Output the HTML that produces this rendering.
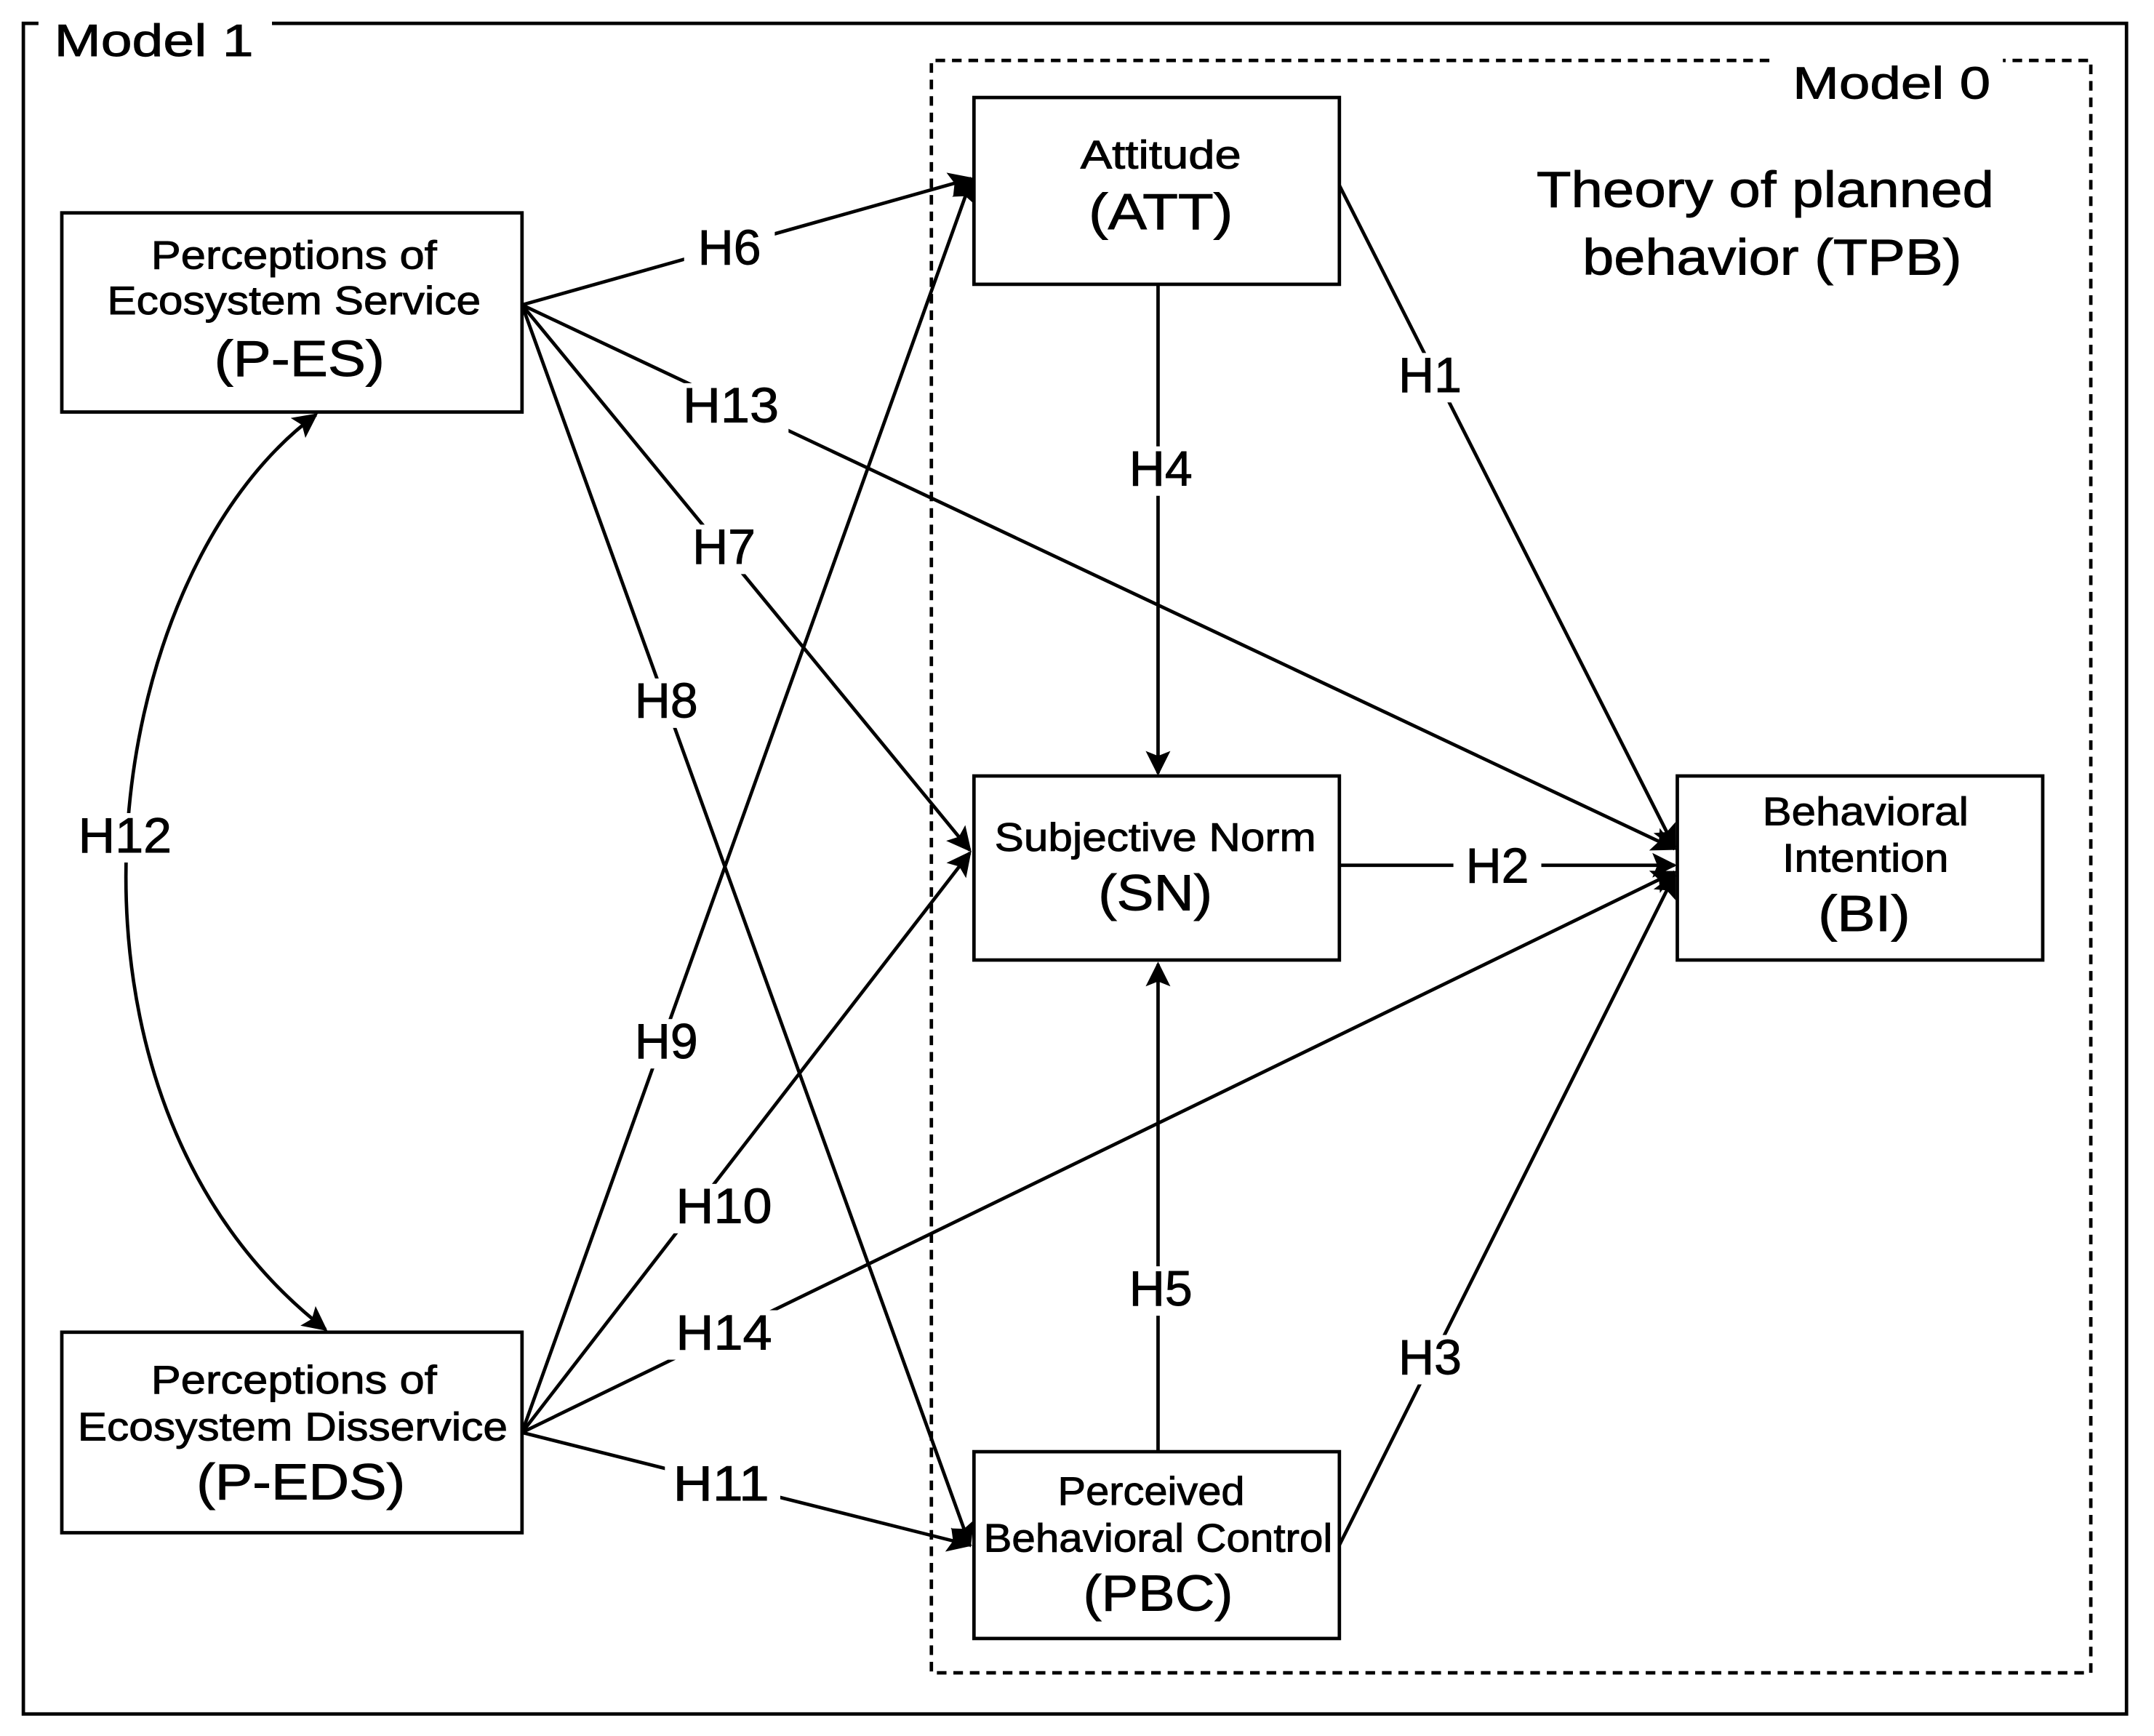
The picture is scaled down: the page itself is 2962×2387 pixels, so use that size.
<!DOCTYPE html>
<html><head><meta charset="utf-8"><style>
html,body{margin:0;padding:0;background:#fff}
svg{display:block}
text{font-family:"Liberation Sans","DejaVu Sans",sans-serif;fill:#000;stroke:#000;stroke-width:0.5;text-anchor:middle;dominant-baseline:middle}
</style></head><body>
<svg width="2962" height="2387" viewBox="0 0 1568 1264" preserveAspectRatio="none" xmlns="http://www.w3.org/2000/svg">
<defs>
<marker id="b" viewBox="0 0 10 10" refX="9" refY="5" markerWidth="22" markerHeight="18" orient="auto-start-reverse" markerUnits="userSpaceOnUse">
<path d="M0,0 L10,5 L0,10 L2,5 z" fill="#000"/></marker>
</defs>
<rect width="1568" height="1264" fill="#fff"/>
<path d="M28,17 L17,17 L17,1248 L1548,1248 L1548,17 L198,17" fill="none" stroke="#000" stroke-width="2.5"/>
<text x="112" y="32" font-size="33" textLength="145" lengthAdjust="spacingAndGlyphs">Model 1</text>
<path d="M1288,44 L678,44 L678,1218 L1522,1218 L1522,44 L1458,44" fill="none" stroke="#000" stroke-width="2.5" stroke-dasharray="7,5"/>
<text x="1377" y="63" font-size="33" textLength="144" lengthAdjust="spacingAndGlyphs">Model 0</text>
<text x="1285" y="141" font-size="37" textLength="333" lengthAdjust="spacingAndGlyphs">Theory of planned</text>
<text x="1290" y="190" font-size="37" textLength="276" lengthAdjust="spacingAndGlyphs">behavior (TPB)</text>

<g stroke="#000" stroke-width="2.5" fill="none" marker-end="url(#b)">
<line x1="380" y1="222" x2="707" y2="130"/>
<line x1="380" y1="222" x2="1219" y2="618"/>
<line x1="380" y1="222" x2="706" y2="619"/>
<line x1="380" y1="222" x2="706" y2="1125"/>
<line x1="975" y1="135" x2="1219" y2="617"/>
<line x1="843" y1="207" x2="843" y2="563"/>
<line x1="975" y1="630" x2="1219" y2="630"/>
<line x1="843" y1="1057" x2="843" y2="702"/>
<line x1="975" y1="1125" x2="1219" y2="637"/>
<line x1="380" y1="1043" x2="707" y2="131"/>
<line x1="380" y1="1043" x2="706" y2="621"/>
<line x1="380" y1="1043" x2="1219" y2="635"/>
<line x1="380" y1="1043" x2="706" y2="1125"/>
<path d="M230,302 C70,420 20,800 237,968" marker-start="url(#b)"/>
</g>

<g fill="#fff">
<rect x="498" y="164" width="66" height="36"/>
<rect x="490" y="279" width="84" height="36"/>
<rect x="498" y="382" width="60" height="36"/>
<rect x="456" y="494" width="60" height="36"/>
<rect x="1012" y="257" width="58" height="36"/>
<rect x="816" y="325" width="58" height="36"/>
<rect x="1058" y="614" width="64" height="36"/>
<rect x="816" y="922" width="58" height="36"/>
<rect x="1012" y="972" width="58" height="36"/>
<rect x="456" y="742" width="60" height="36"/>
<rect x="486" y="862" width="84" height="36"/>
<rect x="486" y="954" width="84" height="36"/>
<rect x="484" y="1064" width="84" height="36"/>
<rect x="48" y="592" width="84" height="36"/>
</g>
<g font-size="36">
<text x="531" y="183" textLength="46" lengthAdjust="spacingAndGlyphs">H6</text>
<text x="532" y="298" textLength="70" lengthAdjust="spacingAndGlyphs">H13</text>
<text x="527" y="401" textLength="46" lengthAdjust="spacingAndGlyphs">H7</text>
<text x="485" y="513" textLength="46" lengthAdjust="spacingAndGlyphs">H8</text>
<text x="1041" y="276" textLength="46" lengthAdjust="spacingAndGlyphs">H1</text>
<text x="845" y="344" textLength="46" lengthAdjust="spacingAndGlyphs">H4</text>
<text x="1090" y="633" textLength="46" lengthAdjust="spacingAndGlyphs">H2</text>
<text x="845" y="941" textLength="46" lengthAdjust="spacingAndGlyphs">H5</text>
<text x="1041" y="991" textLength="46" lengthAdjust="spacingAndGlyphs">H3</text>
<text x="485" y="761" textLength="46" lengthAdjust="spacingAndGlyphs">H9</text>
<text x="527" y="881" textLength="70" lengthAdjust="spacingAndGlyphs">H10</text>
<text x="527" y="973" textLength="70" lengthAdjust="spacingAndGlyphs">H14</text>
<text x="525" y="1083" textLength="70" lengthAdjust="spacingAndGlyphs">H11</text>
<text x="91" y="611" textLength="68" lengthAdjust="spacingAndGlyphs">H12</text>
</g>

<g fill="#fff" stroke="#000" stroke-width="2.5">
<rect x="709" y="71" width="266" height="136"/>
<rect x="709" y="565" width="266" height="134"/>
<rect x="709" y="1057" width="266" height="136"/>
<rect x="1221" y="565" width="266" height="134"/>
<rect x="45" y="155" width="335" height="145"/>
<rect x="45" y="970" width="335" height="146"/>
</g>
<g lengthAdjust="spacingAndGlyphs">
<text x="845" y="115" font-size="29" textLength="117" lengthAdjust="spacingAndGlyphs">Attitude</text>
<text x="845" y="157" font-size="37" textLength="105" lengthAdjust="spacingAndGlyphs">(ATT)</text>
<text x="841" y="612" font-size="29" textLength="234" lengthAdjust="spacingAndGlyphs">Subjective Norm</text>
<text x="841" y="653" font-size="37" textLength="83" lengthAdjust="spacingAndGlyphs">(SN)</text>
<text x="838" y="1088" font-size="29" textLength="136" lengthAdjust="spacingAndGlyphs">Perceived</text>
<text x="843" y="1122" font-size="29" textLength="254" lengthAdjust="spacingAndGlyphs">Behavioral Control</text>
<text x="843" y="1163" font-size="37" textLength="109" lengthAdjust="spacingAndGlyphs">(PBC)</text>
<text x="1358" y="593" font-size="29" textLength="150" lengthAdjust="spacingAndGlyphs">Behavioral</text>
<text x="1358" y="627" font-size="29" textLength="121" lengthAdjust="spacingAndGlyphs">Intention</text>
<text x="1357" y="668" font-size="37" textLength="67" lengthAdjust="spacingAndGlyphs">(BI)</text>
<text x="214" y="188" font-size="29" textLength="208" lengthAdjust="spacingAndGlyphs">Perceptions of</text>
<text x="214" y="221" font-size="29" textLength="272" lengthAdjust="spacingAndGlyphs">Ecosystem Service</text>
<text x="218" y="264" font-size="37" textLength="124" lengthAdjust="spacingAndGlyphs">(P-ES)</text>
<text x="214" y="1007" font-size="29" textLength="208" lengthAdjust="spacingAndGlyphs">Perceptions of</text>
<text x="213" y="1041" font-size="29" textLength="313" lengthAdjust="spacingAndGlyphs">Ecosystem Disservice</text>
<text x="219" y="1082" font-size="37" textLength="152" lengthAdjust="spacingAndGlyphs">(P-EDS)</text>
</g>
</svg>
</body></html>
